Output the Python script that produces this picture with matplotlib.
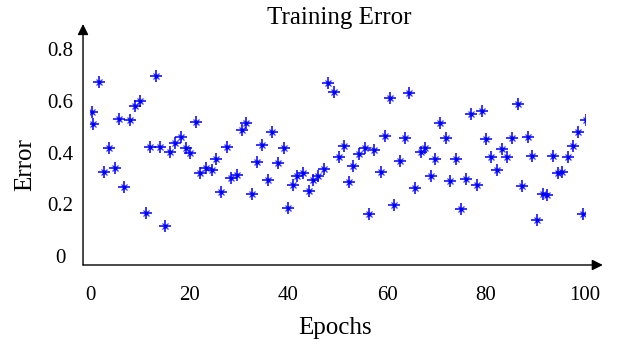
import numpy as np
import matplotlib.pyplot as plt

# epochs / error
epochs = [0.5, 0.7, 1.9, 2.9, 3.9, 5.0, 5.9, 6.9, 8.1, 9.0,
          10.1, 11.3, 12.1, 13.3, 14.1, 15.2, 16.2, 17.2, 18.4, 19.4,
          20.3, 21.4, 22.2, 23.4, 24.6, 25.4, 26.5, 27.7, 28.5, 29.6,
          30.8, 31.6, 32.7, 33.7, 34.8, 36.0, 36.8, 37.9, 39.1, 39.9,
          41.0, 41.9, 43.0, 44.2, 45.1, 46.1, 47.3, 48.0, 49.3, 50.4,
          51.3, 52.4, 53.2, 54.4, 55.6, 56.4, 57.4, 58.7, 59.5, 60.6,
          61.5, 62.6, 63.7, 64.5, 65.7, 66.8, 67.6, 68.8, 69.7, 70.8,
          71.9, 72.8, 73.9, 75.0, 76.0, 77.0, 78.2, 79.1, 80.1, 81.0,
          82.2, 83.3, 84.2, 85.3, 86.5, 87.2, 88.4, 89.2, 90.4, 91.5,
          92.3, 93.5, 94.5, 95.4, 96.6, 97.5, 98.6, 99.6, 100.2]
error = [0.558, 0.509, 0.673, 0.326, 0.417, 0.339, 0.530, 0.268, 0.525, 0.581,
         0.601, 0.168, 0.423, 0.697, 0.422, 0.117, 0.401, 0.436, 0.462, 0.418,
         0.398, 0.520, 0.322, 0.339, 0.333, 0.376, 0.246, 0.423, 0.301, 0.315,
         0.486, 0.516, 0.241, 0.365, 0.429, 0.294, 0.481, 0.360, 0.417, 0.185,
         0.276, 0.309, 0.322, 0.251, 0.294, 0.311, 0.338, 0.668, 0.633, 0.383,
         0.424, 0.286, 0.349, 0.395, 0.418, 0.161, 0.411, 0.326, 0.463, 0.610,
         0.196, 0.369, 0.458, 0.629, 0.263, 0.402, 0.419, 0.311, 0.376, 0.515,
         0.458, 0.291, 0.376, 0.183, 0.299, 0.548, 0.275, 0.560, 0.451, 0.383,
         0.333, 0.413, 0.384, 0.458, 0.589, 0.270, 0.462, 0.388, 0.138, 0.241,
         0.236, 0.388, 0.322, 0.326, 0.384, 0.424, 0.481, 0.161, 0.526]

xticks = [0, 20, 40, 60, 80, 100]
yticks = [0, 0.2, 0.4, 0.6, 0.8]
ytick_labels = ['0', '0.2', '0.4', '0.6', '0.8']

plt.rcParams['font.family'] = ['Liberation Serif', 'DejaVu Serif']

fig = plt.figure(figsize=(6.18, 3.47), dpi=100)
ax = fig.add_axes([90/618, 82/347, 495/618, 241/347])
ax.set_xlim(0, 100)
ax.set_ylim(-0.0348, 0.897)

blue = '#0000ff'
ax.plot(epochs, error, ls='none', marker='+', ms=8.5, mew=1.3, color=blue, alpha=0.85)
ax.plot(epochs, error, ls='none', marker='x', ms=4.5, mew=0.9, color=blue, alpha=0.8)
ax.plot(epochs, error, ls='none', marker='o', ms=3, mew=0, color=blue)

for s in ax.spines.values():
    s.set_visible(False)

# axis lines with arrow heads
x0, y0 = -1.41, -0.0348
ax.annotate('', xy=(x0, 0.897), xytext=(x0, y0), xycoords='data',
            arrowprops=dict(arrowstyle='-|>', color='black', lw=1.0,
                            mutation_scale=16, shrinkA=0, shrinkB=0),
            annotation_clip=False)
ax.annotate('', xy=(103.6, y0), xytext=(x0, y0), xycoords='data',
            arrowprops=dict(arrowstyle='-|>', color='black', lw=1.0,
                            mutation_scale=16, shrinkA=0, shrinkB=0),
            annotation_clip=False)

ax.set_xticks(xticks)
ax.set_xticklabels([str(t) for t in xticks], fontsize=15)
ax.set_yticks(yticks)
ax.set_yticklabels(ytick_labels, fontsize=15)
ax.tick_params(axis='x', length=0, pad=15)
ax.tick_params(axis='y', length=0, pad=21.6)
for lab in ax.get_yticklabels():
    lab.set_horizontalalignment('center')

ax.set_xlabel('Epochs', fontsize=18, va='center')
ax.xaxis.set_label_coords(0.495, -0.262)
ax.set_ylabel('Error', fontsize=18, va='center')
ax.yaxis.set_label_coords(-0.131, 0.415)

fig.text(339.5/618, 1 - 18/347, 'Training Error', fontsize=18, ha='center', va='center')

fig.savefig('out.png', dpi=100)
